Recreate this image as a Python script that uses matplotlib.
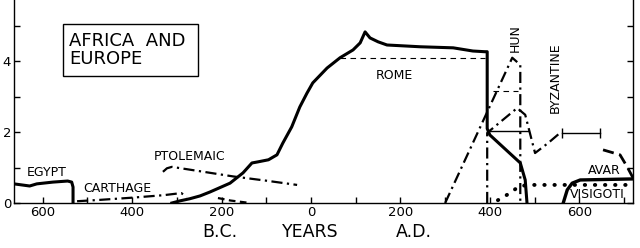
import matplotlib
matplotlib.use('Agg')
import matplotlib.pyplot as plt
from matplotlib.patches import Rectangle
from matplotlib.ticker import MultipleLocator, FuncFormatter

# ── Data (years, negative = B.C.; relative size) ──────────────────────────────
egypt_yr  = [-664, -629, -613, -577, -544, -535, -532, -532]
egypt_val = [0.54, 0.48, 0.54, 0.59, 0.62, 0.59, 0.45, 0.0]

carthage_yr  = [-523, -470, -400, -330, -290, -278]
carthage_val = [0.05, 0.09, 0.15, 0.22, 0.28, 0.17]

ptolemaic_yr  = [-331, -322, -311, -250, -174, -100, -31]
ptolemaic_val = [0.88, 0.98, 1.02, 0.90, 0.75, 0.63, 0.51]

minor_yr  = [-208, -180, -136]
minor_val = [0.14, 0.07, 0.0]

rome_yr  = [-311, -293, -271, -248, -226, -181, -152, -132, -119, -95, -76, -63,
            -43, -25, -9, 4, 36, 65, 94, 110, 121, 132, 150, 170, 244, 318,
            362, 389, 394, 394, 400, 468, 479, 483]
rome_val = [0.0, 0.06, 0.12, 0.2, 0.31, 0.56, 0.85, 1.13, 1.16, 1.22, 1.36, 1.69,
            2.15, 2.71, 3.1, 3.39, 3.81, 4.10, 4.32, 4.52, 4.83, 4.66, 4.55, 4.46,
            4.41, 4.38, 4.29, 4.27, 4.27, 2.1, 1.92, 1.13, 0.65, 0.0]

rome_alt_yr  = [65, 389]
rome_alt_val = [4.10, 4.10]

hun_yr  = [300, 450, 468, 468]
hun_val = [0.0, 4.10, 3.90, 0.0]

byz_yr  = [394, 394, 461, 479, 501, 530, 557]
byz_val = [0.0, 1.98, 2.68, 2.49, 1.41, 1.69, 1.98]
byz_range_yr  = [562, 647]
byz_range_val = [1.98, 1.98]
byz_late_yr  = [653, 691, 707, 720]
byz_late_val = [1.50, 1.36, 1.02, 0.71]

mark_hi_yr,  mark_hi_val = [407, 463], [3.16, 3.16]
mark_lo_yr,  mark_lo_val = [400, 485], [2.03, 2.03]

visigoth_yr  = [418, 445, 463, 483, 720]
visigoth_val = [0.08, 0.28, 0.45, 0.51, 0.51]

avar_yr  = [564, 573, 584, 602, 720]
avar_val = [0.0, 0.37, 0.56, 0.65, 0.68]

labels = [
    ('EGYPT', -591, 0.85, 0),
    ('CARTHAGE', -434, 0.42, 0),
    ('PTOLEMAIC', -271, 1.30, 0),
    ('ROME', 186, 3.59, 0),
    ('HUN', 456, 4.66, 90),
    ('BYZANTINE', 546, 3.53, 90),
    ('AVAR', 655, 0.93, 0),
    ('VISIGOTI', 640, 0.23, 0),
]

# ── Figure ────────────────────────────────────────────────────────────────────
plt.rcParams['font.family'] = 'DejaVu Sans'
fig = plt.figure(figsize=(6.4, 2.48), dpi=100)
ax = fig.add_axes([14/640, 45/248, 619/640, 203/248])

K = 'black'
DASHDOT = (0, (5, 2, 1, 2))

ax.plot(egypt_yr, egypt_val, color=K, lw=2.2, solid_joinstyle='round')
ax.plot(carthage_yr, carthage_val, color=K, lw=1.6, ls=DASHDOT)
ax.plot(ptolemaic_yr, ptolemaic_val, color=K, lw=1.6, ls=DASHDOT)
ax.plot(minor_yr, minor_val, color=K, lw=1.6, ls=(0, (3, 2)))
ax.plot(rome_yr, rome_val, color=K, lw=2.2, solid_joinstyle='round')
ax.plot(rome_alt_yr, rome_alt_val, color=K, lw=0.8, ls=(0, (5, 4)))
ax.plot(hun_yr, hun_val, color=K, lw=1.6, ls=DASHDOT)
ax.plot(byz_yr, byz_val, color=K, lw=1.6, ls=DASHDOT)
ax.plot(byz_range_yr, byz_range_val, color=K, lw=1.0, marker='|', ms=7, mew=1.0)
ax.plot(byz_late_yr, byz_late_val, color=K, lw=2.0, ls=(0, (4, 2)))
ax.plot(mark_hi_yr, mark_hi_val, color=K, lw=0.8, ls=(0, (5, 4)))
ax.plot(mark_lo_yr, mark_lo_val, color=K, lw=1.0)
ax.plot(visigoth_yr, visigoth_val, color=K, lw=2.8, ls=(0, (0.1, 2.5)),
        dash_capstyle='round')
ax.plot(avar_yr, avar_val, color=K, lw=2.4, solid_joinstyle='round')

for txt, x, y, rot in labels:
    ax.text(x, y, txt, fontsize=9, ha='center', va='center', rotation=rot, color=K)

# title box
ax.add_patch(Rectangle((0.079, 0.626), 0.218, 0.256, transform=ax.transAxes,
                       fill=False, lw=1.0, ec=K))
ax.text(0.089, 0.752, 'AFRICA  AND\nEUROPE', transform=ax.transAxes,
        fontsize=13, ha='left', va='center', linespacing=1.0, color=K)

# axes styling
ax.set_xlim(-664, 720)
ax.set_ylim(0, 5.73)
ax.spines['top'].set_visible(False)
for s in ('left', 'right', 'bottom'):
    ax.spines[s].set_linewidth(1.0)
ax.xaxis.set_major_locator(MultipleLocator(200))
ax.xaxis.set_minor_locator(MultipleLocator(100))
ax.xaxis.set_major_formatter(FuncFormatter(lambda v, p: f'{abs(int(v))}'))
ax.yaxis.set_major_locator(MultipleLocator(2))
ax.yaxis.set_minor_locator(MultipleLocator(1))
ax.yaxis.set_major_formatter(FuncFormatter(lambda v, p: f'{int(v)}'))
ax.tick_params(axis='both', which='both', direction='in', length=4, width=1.0,
               labelsize=9.5, pad=2)
ax.tick_params(axis='y', which='both', right=True)
ax.tick_params(axis='x', which='both', top=False)

fig.text(220/640, 1 - 232/248, 'B.C.', fontsize=12.5, ha='center', va='center')
fig.text(310/640, 1 - 232/248, 'YEARS', fontsize=12.5, ha='center', va='center')
fig.text(414/640, 1 - 232/248, 'A.D.', fontsize=12.5, ha='center', va='center')

fig.savefig('out.png', dpi=100)
